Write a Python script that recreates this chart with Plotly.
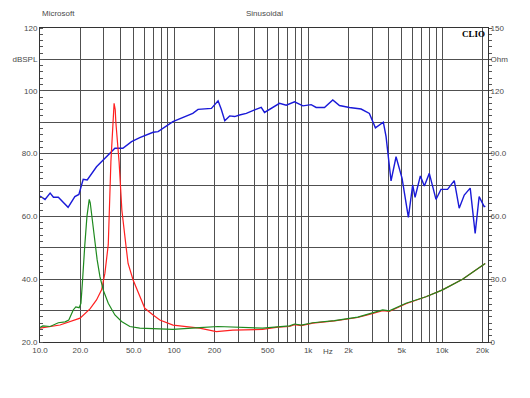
import plotly.graph_objects as go

# ---- data ----
spl_freq = [10, 10.9, 11.9, 12.6, 13.7, 16.2, 18.2, 19.5, 21.0, 22.5, 26.4, 31.4, 36.2, 41.5,
            48.2, 55.5, 69.8, 76, 98, 138, 151, 190, 213, 225, 239, 260, 283, 308, 346, 399,
            447, 473, 531, 612, 687, 792, 914, 1054, 1148, 1325, 1528, 1714, 2033, 2485, 2865,
            3177, 3641, 3816, 4157, 4530, 5023, 5598, 6026, 6281, 6876, 7365, 8020, 8995, 9797,
            10970, 12310, 13400, 14620, 16190, 17630, 18880, 20570, 21000]
spl_db = [66.5, 65.4, 67.4, 66.1, 66.1, 62.9, 66.3, 67.0, 71.8, 71.6, 75.8, 79.0, 81.7, 81.7,
          83.8, 85.1, 86.8, 87.0, 90.2, 92.8, 94.1, 94.4, 96.8, 94.1, 90.5, 92.0, 91.8, 92.3,
          92.8, 93.9, 94.7, 93.1, 94.4, 96.0, 95.4, 96.5, 95.2, 95.6, 94.7, 94.7, 97.1, 95.3,
          94.7, 94.2, 92.8, 88.2, 90.0, 85.4, 71.3, 79.0, 72.1, 59.7, 70.0, 66.1, 72.9, 69.7,
          73.7, 65.4, 68.6, 68.6, 71.4, 62.6, 66.8, 69.0, 54.6, 66.3, 63.1, 63.3]

# impedance curves, in Ohm (right axis)
red_freq = [10, 14.1, 19.9, 23.6, 26.4, 28.8, 30.5, 32.3, 33.8, 35.0, 35.7, 36.4, 36.8, 38.9,
            40.8, 43.7, 45.4, 49.5, 55.5, 60.5, 69.8, 78.3, 98.3, 155, 207, 274, 457, 595, 727,
            792, 889, 1084, 1573, 2344, 2865, 3404, 3600, 4036, 5370, 7568, 10070, 14190, 20950]
red_ohm = [6.6, 8.1, 11.4, 15.8, 20.1, 24.9, 32.9, 46.5, 86.1, 109.0, 114.0, 111.0, 105.0, 86.1,
           63.0, 46.4, 37.5, 29.6, 21.6, 16.1, 12.9, 10.5, 8.1, 6.6, 5.0, 5.7, 6.0, 7.1, 7.4,
           8.3, 7.8, 9.0, 10.1, 11.7, 13.2, 14.4, 15.0, 14.6, 18.3, 21.6, 24.9, 30.0, 37.5]

green_freq = [10, 10.5, 11.9, 13.7, 15.4, 16.4, 17.7, 18.5, 19.6, 20.2, 20.7, 21.3, 21.6, 22.4,
              22.9, 23.3, 23.7, 24.2, 25.7, 26.7, 28.0, 29.6, 32.3, 36.2, 40.6, 46.8, 55.5, 98,
              155, 213, 457, 595, 727, 792, 889, 1084, 1573, 2344, 2865, 3404, 3600, 4036, 5370,
              7568, 10070, 14190, 20950]
green_ohm = [6.9, 7.7, 7.4, 9.2, 9.6, 10.5, 15.3, 16.8, 16.4, 18.5, 28.1, 42.3, 46.5, 60.0,
             66.0, 68.1, 66.5, 61.5, 46.5, 39.2, 31.2, 24.9, 18.5, 12.9, 9.8, 7.4, 6.6, 6.0,
             6.9, 7.4, 6.6, 7.4, 7.7, 8.6, 8.1, 9.2, 10.2, 11.9, 13.4, 14.6, 15.3, 14.9, 18.5,
             21.6, 24.9, 30.0, 37.5]

x_grid = [20, 30, 40, 50, 60, 70, 80, 90, 100, 200, 300, 400, 500, 600, 700, 800, 900,
          1000, 2000, 3000, 4000, 5000, 6000, 7000, 8000, 9000, 10000, 20000]
x_labels = {10: "10.0", 20: "20.0", 50: "50.0", 100: "100", 200: "200", 500: "500",
            1000: "1k", 2000: "2k", 5000: "5k", 10000: "10k", 20000: "20k"}
y_left_vals = [20, 30, 40, 50, 60, 70, 80, 90, 100, 110, 120]
y_left_text = ["20.0", "", "40.0", "", "60.0", "", "80.0", "", "100", "dBSPL", "120"]
y_right_vals = [0, 15, 30, 45, 60, 75, 90, 105, 120, 135, 150]
y_right_text = ["0", "", "30.0", "", "60.0", "", "90.0", "", "120", "Ohm", "150"]

tick_vals = [10] + x_grid
tick_text = [x_labels.get(v, "") for v in tick_vals]

FONT = "Liberation Sans, Arial, sans-serif"
TXT = "#4a4a4a"
GRID = "#505050"

fig = go.Figure()
fig.add_trace(go.Scatter(x=spl_freq, y=spl_db, mode="lines",
                         line=dict(color="#1a1ad8", width=1.4), yaxis="y"))
fig.add_trace(go.Scatter(x=red_freq, y=red_ohm, mode="lines",
                         line=dict(color="#ff2020", width=1.2), yaxis="y2"))
fig.add_trace(go.Scatter(x=green_freq, y=green_ohm, mode="lines",
                         line=dict(color="#1e8a1e", width=1.2), yaxis="y2"))

# page body has an 8px margin, so the figure is offset by 8px
fig.update_layout(
    width=522, height=390,
    margin=dict(l=32, r=42, t=20, b=56, autoexpand=False),
    paper_bgcolor="white", plot_bgcolor="white",
    showlegend=False,
    font=dict(family=FONT, size=8, color=TXT),
    xaxis=dict(type="log", range=[1, 4.342], tickvals=tick_vals, ticktext=tick_text,
               showgrid=True, gridcolor=GRID, gridwidth=1, ticks="", automargin=False,
               showline=True, linecolor="#333333", linewidth=1, mirror=True,
               zeroline=False, tickfont=dict(size=8, color=TXT)),
    yaxis=dict(range=[20, 120], tickvals=y_left_vals, ticktext=y_left_text,
               showgrid=True, gridcolor=GRID, gridwidth=1, ticks="", automargin=False,
               showline=True, linecolor="#333333", linewidth=1, mirror=True,
               zeroline=False, tickfont=dict(size=8, color=TXT),
               minor=dict(dtick=2, ticks="inside", ticklen=3, tickcolor="#555555",
                          showgrid=False)),
    yaxis2=dict(range=[0, 150], overlaying="y", side="right",
                tickvals=y_right_vals, ticktext=y_right_text, automargin=False,
                showgrid=False, ticks="", zeroline=False,
                showline=True, linecolor="#333333", linewidth=1,
                tickfont=dict(size=8, color=TXT),
                minor=dict(dtick=3, ticks="outside", ticklen=3, tickcolor="#555555")),
)

fig.add_annotation(text="Microsoft", xref="paper", yref="paper", x=0, y=1,
                   xanchor="left", yanchor="bottom", yshift=8, showarrow=False,
                   font=dict(size=8, color=TXT))
fig.add_annotation(text="Sinusoidal", xref="paper", yref="paper", x=0.502, y=1,
                   xanchor="center", yanchor="bottom", yshift=8, showarrow=False,
                   font=dict(size=8, color=TXT))
fig.add_annotation(text="<b>CLIO</b>", xref="paper", yref="paper", x=1, y=1,
                   xanchor="right", yanchor="top", xshift=-1, yshift=1, showarrow=False,
                   font=dict(size=9, color="#000000", family="Liberation Serif, serif"))
fig.add_annotation(text="Hz", xref="x", yref="paper", x=3.152, y=0,
                   xanchor="center", yanchor="top", yshift=-3, showarrow=False,
                   font=dict(size=8, color=TXT))

fig.write_html("out.html")
